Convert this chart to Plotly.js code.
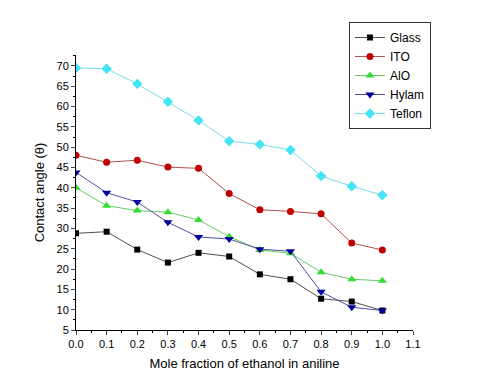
<!DOCTYPE html>
<html><head><meta charset="utf-8">
<script src="https://cdn.plot.ly/plotly-3.0.1.min.js"></script>
<style>html,body{margin:0;padding:0;background:#fff}#c{width:500px;height:375px}</style>
</head><body><div id="c"></div>
<script>
const x = [0.0,0.1,0.2,0.3,0.4,0.5,0.6,0.7,0.8,0.9,1.0];
const glass  = [28.8,29.2,24.8,21.6,24.0,23.1,18.7,17.5,12.7,12.0,9.8];
const ito    = [48.0,46.3,46.8,45.1,44.8,38.6,34.6,34.2,33.6,26.4,24.7];
const alo    = [40.0,35.6,34.4,34.0,32.1,28.0,24.7,23.9,19.2,17.5,17.1];
const hylam  = [43.8,38.8,36.5,31.5,27.9,27.4,24.9,24.4,14.4,10.6,9.8];
const teflon = [69.5,69.3,65.6,61.2,56.6,51.5,50.7,49.3,42.9,40.4,38.2];
const names = ["Glass","ITO","AlO","Hylam","Teflon"];

function tr(y,name,mcol,lcol,sym,size){
  return {x:x,y:y,name:name,type:'scatter',mode:'lines+markers',
    line:{color:lcol,width:1},marker:{color:mcol,symbol:sym,size:size}};
}
const data = [
  tr(glass,names[0],'#000000','#505050','square',6),
  tr(ito,names[1],'#c00000','#b05050','circle',7),
  tr(alo,names[2],'#33dd33','#66cc66','triangle-up',8),
  tr(hylam,names[3],'#000099','#5050a8','triangle-down',8),
  tr(teflon,names[4],'#44e4f4','#77dce8','diamond',8)
];
const layout = {
  width:500,height:375,
  margin:{l:76,r:87,t:55,b:45},
  paper_bgcolor:'#fff',plot_bgcolor:'#fff',
  font:{family:'Liberation Sans, Arial, sans-serif',color:'#000',size:11},
  showlegend:true,
  legend:{x:0.81,y:1.12,xanchor:'left',yanchor:'top',bordercolor:'#333',borderwidth:1,
    bgcolor:'#fff',font:{size:12},tracegroupgap:0,itemwidth:30},
  xaxis:{range:[0,1.1],tick0:0,dtick:0.1,tickformat:'.1f',ticks:'outside',ticklen:4,
    showline:true,linecolor:'#000',linewidth:1,zeroline:false,showgrid:false,
    minor:{dtick:0.05,ticks:'outside',ticklen:2,tickcolor:'#000'},
    title:{text:'Mole fraction of ethanol in aniline',font:{size:13},standoff:9}},
  yaxis:{range:[5,72.7],tick0:5,dtick:5,ticks:'outside',ticklen:4,
    showline:true,linecolor:'#000',linewidth:1,zeroline:false,showgrid:false,
    minor:{dtick:2.5,ticks:'outside',ticklen:2,tickcolor:'#000'},
    title:{text:'Contact angle (θ)',font:{size:13},standoff:8}}
};
Plotly.newPlot('c',data,layout,{displayModeBar:false,staticPlot:true});
</script></body></html>
